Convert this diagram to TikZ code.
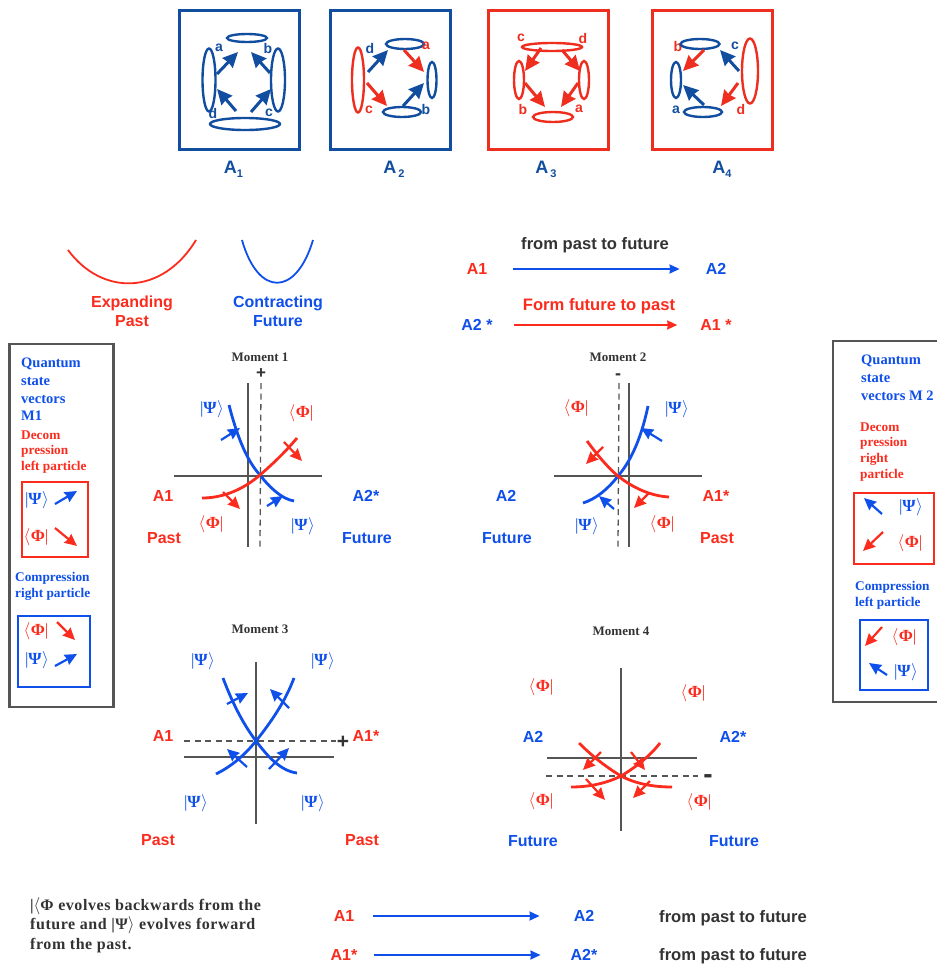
\documentclass[tikz,border=0pt]{standalone}
\usepackage{fontspec}
\setmainfont{Liberation Serif}
\setsansfont{Liberation Sans}
\newfontfamily\parafont[LetterSpace=3.5]{Liberation Serif}
\usetikzlibrary{arrows.meta,shapes.geometric}
\definecolor{kb}{HTML}{0F4FEA}
\definecolor{kr}{HTML}{FB2C1E}
\definecolor{tb}{HTML}{124E9F}
\definecolor{tr}{HTML}{EE2F20}
\definecolor{kg}{HTML}{555555}
\definecolor{kt}{HTML}{333333}
\newcommand{\kPsi}{\textcolor{kb}{\fontsize{17}{17}\selectfont|\bfseries Ψ\mdseries\kern.5pt$\rangle$}}
\newcommand{\kPhi}{\textcolor{kr}{\fontsize{17}{17}\selectfont$\langle$\kern.5pt\bfseries Φ\mdseries|}}
\newcommand{\ASub}[2]{A\kern#2pt\raisebox{-4pt}{\fontsize{11}{11}\selectfont #1}}
\newcommand{\lb}[4][]{\node[#1] (#2) at (#3) {#4};}
\newcommand{\fa}[4][]{\coordinate (#2s) at (#3); \coordinate (#2e) at (#4); \draw[#1] (#2s) -- (#2e);}
\newcommand{\ov}[6][]{\node[ellipse,draw=#5,line width=2.4pt,fill=white,inner sep=0pt,minimum width=#3pt,minimum height=#4pt,#1] (#6) at (#2) {};}
\tikzset{
  x=1pt,y=-1pt,
  sans/.style={font=\sffamily\bfseries\fontsize{16}{16}\selectfont,inner sep=0pt,text height=11.5pt,text depth=0pt},
  wide/.style={font=\sffamily\bfseries\fontsize{16.6}{16.6}\selectfont},
  rlab/.style={sans,text=kr},
  blab/.style={sans,text=kb},
  glab/.style={sans,wide,text=kt},
  small/.style={font=\sffamily\bfseries\fontsize{14}{14}\selectfont,inner sep=0pt},
  titl/.style={font=\bfseries\fontsize{13}{13}\selectfont,text=kt,inner sep=0pt},
  serb/.style={font=\bfseries\fontsize{14.5}{17.5}\selectfont,inner sep=0pt,anchor=west},
  serc/.style={font=\bfseries\fontsize{13.3}{16}\selectfont,inner sep=0pt,anchor=west},
  ket/.style={inner sep=0pt},
  signlab/.style={font=\sffamily\bfseries,text=kt,inner sep=0pt},
  alab/.style={sans,text=tb,font=\sffamily\bfseries\fontsize{18}{18}\selectfont},
  bigbox/.style={line width=3pt,minimum width=120pt,minimum height=138pt,inner sep=0pt},
  panel/.style={draw=kg,line width=2.6pt},
  ibox/.style={line width=2pt},
  topar/.style={line width=3pt,-{Stealth[length=15pt,width=14pt,inset=1pt]}},
  minar/.style={line width=2.2pt,-{Stealth[length=12pt,width=11pt,inset=1pt]}},
  axis/.style={draw=kg,line width=1.3pt},
  dax/.style={draw=kg,line width=1.3pt,dash pattern=on 6pt off 4.5pt},
  curve/.style={line width=2.8pt},
  longar/.style={line width=1.7pt,-{Stealth[length=10pt,width=9pt,inset=.5pt]}},
}
\begin{document}
\begin{tikzpicture}
\useasboundingbox (0,0) rectangle (937,966);
\fill[white] (0,0) rectangle (937,966);
% ---------- A boxes
\node[draw=tb,bigbox] (boxA1) at (239,80) {};
\node[draw=tb,bigbox] (boxA2) at (390.5,80) {};
\node[draw=tr,bigbox] (boxA3) at (548,80) {};
\node[draw=tr,bigbox] (boxA4) at (712,80) {};
% A1
\ov{247,38}{40}{8}{tb}{o1t}\ov{209,80}{13}{63}{tb}{o1l}\ov{278,80}{14}{63}{tb}{o1r}\ov{245,124}{70}{12}{tb}{o1b}
\fa[topar,tb]{a1p}{217,74}{238,52}\fa[topar,tb]{a1q}{270,73}{251,52}\fa[topar,tb]{a1r}{236,111}{217,89}\fa[topar,tb]{a1u}{251,112}{271,89}
\lb[small,text=tb]{l1a}{219,48}{a}\lb[small,text=tb]{l1b}{268,48}{b}\lb[small,text=tb]{l1d}{213,113}{d}\lb[small,text=tb]{l1c}{269,113}{c}
\lb[alab]{tA1}{233.5,168}{\ASub{1}{0}}
% A2
\ov{358,80}{12}{65}{tr}{o2l}\ov{405,44}{38}{10}{tb}{o2t}\ov{432,80}{9}{36}{tb}{o2r}\ov{402,112}{38}{10}{tb}{o2b}
\fa[topar,tb]{a2p}{368,72}{388,50}\fa[topar,tr]{a2q}{404,50}{424,72}\fa[topar,tr]{a2r}{367,83}{387,106}\fa[topar,tb]{a2u}{403,106}{424,83}
\lb[small,text=tb]{l2d}{370,48}{d}\lb[small,text=tr]{l2a}{426,46}{a}\lb[small,text=tr]{l2c}{369,110}{c}\lb[small,text=tb]{l2b}{426,109}{b}
\lb[alab]{tA2}{394,168}{\ASub{2}{2}}
% A3
\ov{552,47}{60}{8}{tr}{o3t}\ov{519,80}{10}{38}{tr}{o3l}\ov{584,80}{10}{38}{tr}{o3r}\ov{553,117}{40}{10}{tr}{o3b}
\fa[topar,tr]{a3p}{541,48}{525,71}\fa[topar,tr]{a3q}{562,50}{580,71}\fa[topar,tr]{a3r}{525,83}{545,107}\fa[topar,tr]{a3u}{578,83}{561,107}
\lb[small,text=tr]{l3c}{521,38}{c}\lb[small,text=tr]{l3d}{583,38}{d}\lb[small,text=tr]{l3b}{523,109}{b}\lb[small,text=tr]{l3a}{579,109}{a}
\lb[alab]{tA3}{546,168}{\ASub{3}{2}}
% A4
\lb[small,text=tr]{l4b}{678,46}{b}
\ov{700,44}{39}{10}{tb}{o4t}\ov{676,80}{10}{36}{tb}{o4l}\ov{750,71}{16}{65}{tr}{o4r}\ov{703,112}{38}{10}{tb}{o4b}
\fa[topar,tr]{a4p}{704,50}{683,71}\fa[topar,tb]{a4q}{739,71}{720,50}\fa[topar,tr]{a4r}{738,83}{721,106}\fa[topar,tb]{a4u}{704,105}{683,85}
\lb[small,text=tb]{l4c}{735,46}{c}\lb[small,text=tb]{l4a}{676,110}{a}\lb[small,text=tr]{l4d}{741,109}{d}
\lb[alab]{tA4}{722,168}{\ASub{4}{0}}
% ---------- parabolas
\draw[kr,line width=1.8pt] (68,250) .. controls (102,296) and (162,296) .. (196,240);
\draw[kb,line width=1.8pt] (242,240) .. controls (258,297) and (296,297) .. (313,240);
\lb[rlab]{tExp}{132,302}{Expanding}\lb[rlab]{tPast}{132,321}{Past}
\lb[blab]{tCon}{278,302}{Contracting}\lb[blab]{tFut}{278,321}{Future}
% ---------- top right arrows
\lb[glab]{tfp}{595,244}{from past to future}
\lb[rlab]{n1}{477,269}{A1}\lb[blab]{n2}{716,269}{A2}
\draw[longar,kb,shorten <=26pt,shorten >=26pt] (n1) -- (n2);
\lb[rlab,wide]{tff}{599,305}{Form future to past}
\lb[blab]{n3}{477,325}{A2 *}\lb[rlab]{n4}{716,325}{A1 *}
\draw[longar,kr,shorten <=21pt,shorten >=23pt] (n3) -- (n4);
% ---------- left panel
\node[panel,minimum width=103.5pt,minimum height=363pt,inner sep=0pt] (pL) at (61.5,525.5) {};
\lb[serb,text=kb]{pL1}{21,364}{Quantum}\lb[serb,text=kb]{pL2}{21,381.5}{state}\lb[serb,text=kb]{pL3}{21,399}{vectors}\lb[serb,text=kb]{pL4}{21,416}{M1}
\lb[serc,text=kr]{pL5}{21,435}{Decom}\lb[serc,text=kr]{pL6}{21,451}{pression}\lb[serc,text=kr]{pL7}{21,467}{left particle}
\node[draw=kr,ibox,minimum width=66pt,minimum height=75pt,inner sep=0pt] (bL1) at (55,519.5) {};
\lb[ket]{k1}{37,500}{\kPsi}\fa[minar,kb]{aL1}{55,504}{77,491}
\lb[ket]{k2}{36,537}{\kPhi}\fa[minar,kr]{aL2}{55,528}{77,546}
\lb[serc,text=kb]{pL8}{15,578}{Compression}\lb[serc,text=kb]{pL9}{15,594}{right particle}
\node[draw=kb,ibox,minimum width=72pt,minimum height=71pt,inner sep=0pt] (bL2) at (54,651.5) {};
\lb[ket]{k3}{36,631}{\kPhi}\fa[minar,kr]{aL3}{57,622}{75,640}
\lb[ket]{k4}{37,660}{\kPsi}\fa[minar,kb]{aL4}{55,666}{77,654}
% ---------- right panel
\coordinate (pRa) at (937,341);\coordinate (pRb) at (833,341);\coordinate (pRc) at (833,702);\coordinate (pRd) at (937,702);
\draw[panel] (pRa) -- (pRb) -- (pRc) -- (pRd);
\lb[serb,text=kb]{pR1}{861,361}{Quantum}\lb[serb,text=kb]{pR2}{861,378}{state}\lb[serb,text=kb]{pR3}{861,396}{vectors M 2}
\lb[serc,text=kr]{pR4}{860,427}{Decom}\lb[serc,text=kr]{pR5}{860,443}{pression}\lb[serc,text=kr]{pR6}{860,459}{right}\lb[serc,text=kr]{pR7}{860,475}{particle}
\node[draw=kr,ibox,minimum width=80pt,minimum height=71pt,inner sep=0pt] (bR1) at (894,528.5) {};
\fa[minar,kb]{aR1}{882,514}{864,498}\lb[ket]{k5}{911,507}{\kPsi}
\fa[minar,kr]{aR2}{883,532}{863,551}\lb[ket]{k6}{910,543}{\kPhi}
\lb[serc,text=kb]{pR8}{855,587}{Compression}\lb[serc,text=kb]{pR9}{855,603}{left particle}
\node[draw=kb,ibox,minimum width=68pt,minimum height=70pt,inner sep=0pt] (bR2) at (894,655) {};
\fa[minar,kr]{aR3}{882,627}{865,646}\lb[ket]{k7}{904,637}{\kPhi}
\fa[minar,kb]{aR4}{887,675}{869,663}\lb[ket]{k8}{906,672}{\kPsi}
% ---------- Moment 1
\lb[titl]{m1}{260,357}{Moment 1}
\lb[signlab,font=\sffamily\bfseries\fontsize{17}{17}\selectfont]{m1p}{261,374}{+}
\draw[axis] (248,383) -- (248,547);
\draw[dax] (261,383) -- (260,547);
\draw[axis] (174,476) -- (322,476);
\draw[curve,kb] (229,405) .. controls (238,440) and (248,462) .. (260,475) .. controls (270,488) and (282,499) .. (294,501);
\draw[curve,kr] (202,498) .. controls (225,498) and (245,488) .. (260,475) .. controls (275,462) and (287,450) .. (297,438);
\fa[minar,kb]{m1a}{221,440}{240,428}\fa[minar,kb]{m1b}{267,506}{283,496}\fa[minar,kr]{m1c}{284,442}{302,461}\fa[minar,kr]{m1d}{223,492}{240,509}
\lb[ket]{m1k1}{212,409}{\kPsi}\lb[ket]{m1k2}{301,413}{\kPhi}\lb[ket]{m1k3}{211,524}{\kPhi}\lb[ket]{m1k4}{303,526}{\kPsi}
\lb[rlab]{m1A}{163,496}{A1}\lb[blab]{m1B}{366,496}{A2*}\lb[rlab]{m1P}{164,538}{Past}\lb[blab]{m1F}{367,538}{Future}
% ---------- Moment 2
\lb[titl]{m2}{618,357}{Moment 2}
\lb[signlab,font=\sffamily\bfseries\fontsize{18}{18}\selectfont]{m2p}{618,377}{-}
\draw[axis] (629,383) -- (629,547);
\draw[dax] (619,383) -- (618,547);
\draw[axis] (554,476) -- (702,476);
\draw[curve,kb] (648,406) .. controls (642,435) and (632,460) .. (618,476) .. controls (608,489) and (596,499) .. (583,503);
\draw[curve,kr] (587,441) .. controls (596,453) and (606,466) .. (618,476) .. controls (633,488) and (651,496) .. (669,497);
\fa[minar,kb]{m2a}{662,441}{641,428}\fa[minar,kb]{m2b}{614,509}{599,496}\fa[minar,kr]{m2c}{603,447}{586,464}\fa[minar,kr]{m2d}{649,493}{634,508}
\lb[ket]{m2k1}{576,408}{\kPhi}\lb[ket]{m2k2}{677,409}{\kPsi}\lb[ket]{m2k3}{587,526}{\kPsi}\lb[ket]{m2k4}{662,524}{\kPhi}
\lb[blab]{m2A}{506,496}{A2}\lb[rlab]{m2B}{716,496}{A1*}\lb[blab]{m2F}{507,538}{Future}\lb[rlab]{m2P}{717,538}{Past}
% ---------- Moment 3
\lb[titl]{m3}{260,629}{Moment 3}
\draw[axis] (256,662) -- (256,824);
\draw[axis] (184,757) -- (334,757);
\draw[dax] (184,741) -- (336,741);
\lb[signlab,font=\sffamily\bfseries\fontsize{21}{21}\selectfont]{m3p}{343,742}{+}
\draw[curve,kb] (223,678) .. controls (232,702) and (243,724) .. (256,741) .. controls (268,757) and (281,771) .. (297,773);
\draw[curve,kb] (294,678) .. controls (285,702) and (271,722) .. (256,741) .. controls (243,757) and (230,767) .. (216,774);
\fa[minar,kb]{m3a}{227,704}{248,693}\fa[minar,kb]{m3b}{289,708}{270,689}\fa[minar,kb]{m3c}{247,767}{227,749}\fa[minar,kb]{m3d}{269,769}{289,748}
\lb[ket]{m3k1}{203,661}{\kPsi}\lb[ket]{m3k2}{323,661}{\kPsi}\lb[ket]{m3k3}{196,803}{\kPsi}\lb[ket]{m3k4}{313,803}{\kPsi}
\lb[rlab]{m3A}{163,736}{A1}\lb[rlab]{m3B}{366,736}{A1*}\lb[rlab]{m3P}{158,840}{Past}\lb[rlab]{m3Q}{362,840}{Past}
% ---------- Moment 4
\lb[titl]{m4}{621,631}{Moment 4}
\draw[axis] (621,668) -- (621,831);
\draw[axis] (547,758) -- (697,758);
\draw[dax] (546,776) -- (698,776);
\lb[signlab,font=\sffamily\bfseries\fontsize{28}{28}\selectfont]{m4p}{708,779}{-}
\draw[curve,kr] (579,743) .. controls (592,756) and (606,767) .. (621,776) .. controls (636,784) and (654,787) .. (672,787);
\draw[curve,kr] (660,743) .. controls (650,756) and (636,767) .. (621,776) .. controls (607,783) and (590,787) .. (571,787);
\fa[minar,kr]{m4a}{601,752}{583,770}\fa[minar,kr]{m4b}{631,752}{645,770}\fa[minar,kr]{m4c}{586,779}{605,800}\fa[minar,kr]{m4d}{650,781}{633,798}
\lb[ket]{m4k1}{541,687}{\kPhi}\lb[ket]{m4k2}{693,693}{\kPhi}\lb[ket]{m4k3}{541,801}{\kPhi}\lb[ket]{m4k4}{699,802}{\kPhi}
\lb[blab]{m4A}{533,737}{A2}\lb[blab]{m4B}{733,737}{A2*}\lb[blab]{m4F}{533,841}{Future}\lb[blab]{m4G}{734,841}{Future}
% ---------- bottom
\node[inner sep=0pt,anchor=north west,align=left,text=kt,font=\parafont\bfseries\fontsize{16}{19.5}\selectfont] (para) at (30,897) {|\mdseries$\langle$\bfseries Φ evolves backwards from the\\future and |Ψ\mdseries$\rangle$\bfseries{} evolves forward\\from the past.};
\lb[rlab]{n5}{344,916}{A1}\lb[blab]{n6}{584,916}{A2}
\draw[longar,kb,shorten <=19pt,shorten >=34pt] (n5) -- (n6);
\lb[glab]{t5}{733,917}{from past to future}
\lb[rlab]{n7}{344,955}{A1*}\lb[blab]{n8}{584,955}{A2*}
\draw[longar,kb,shorten <=16pt,shorten >=30pt] (n7) -- (n8);
\lb[glab]{t6}{733,955}{from past to future}
\end{tikzpicture}
\end{document}
